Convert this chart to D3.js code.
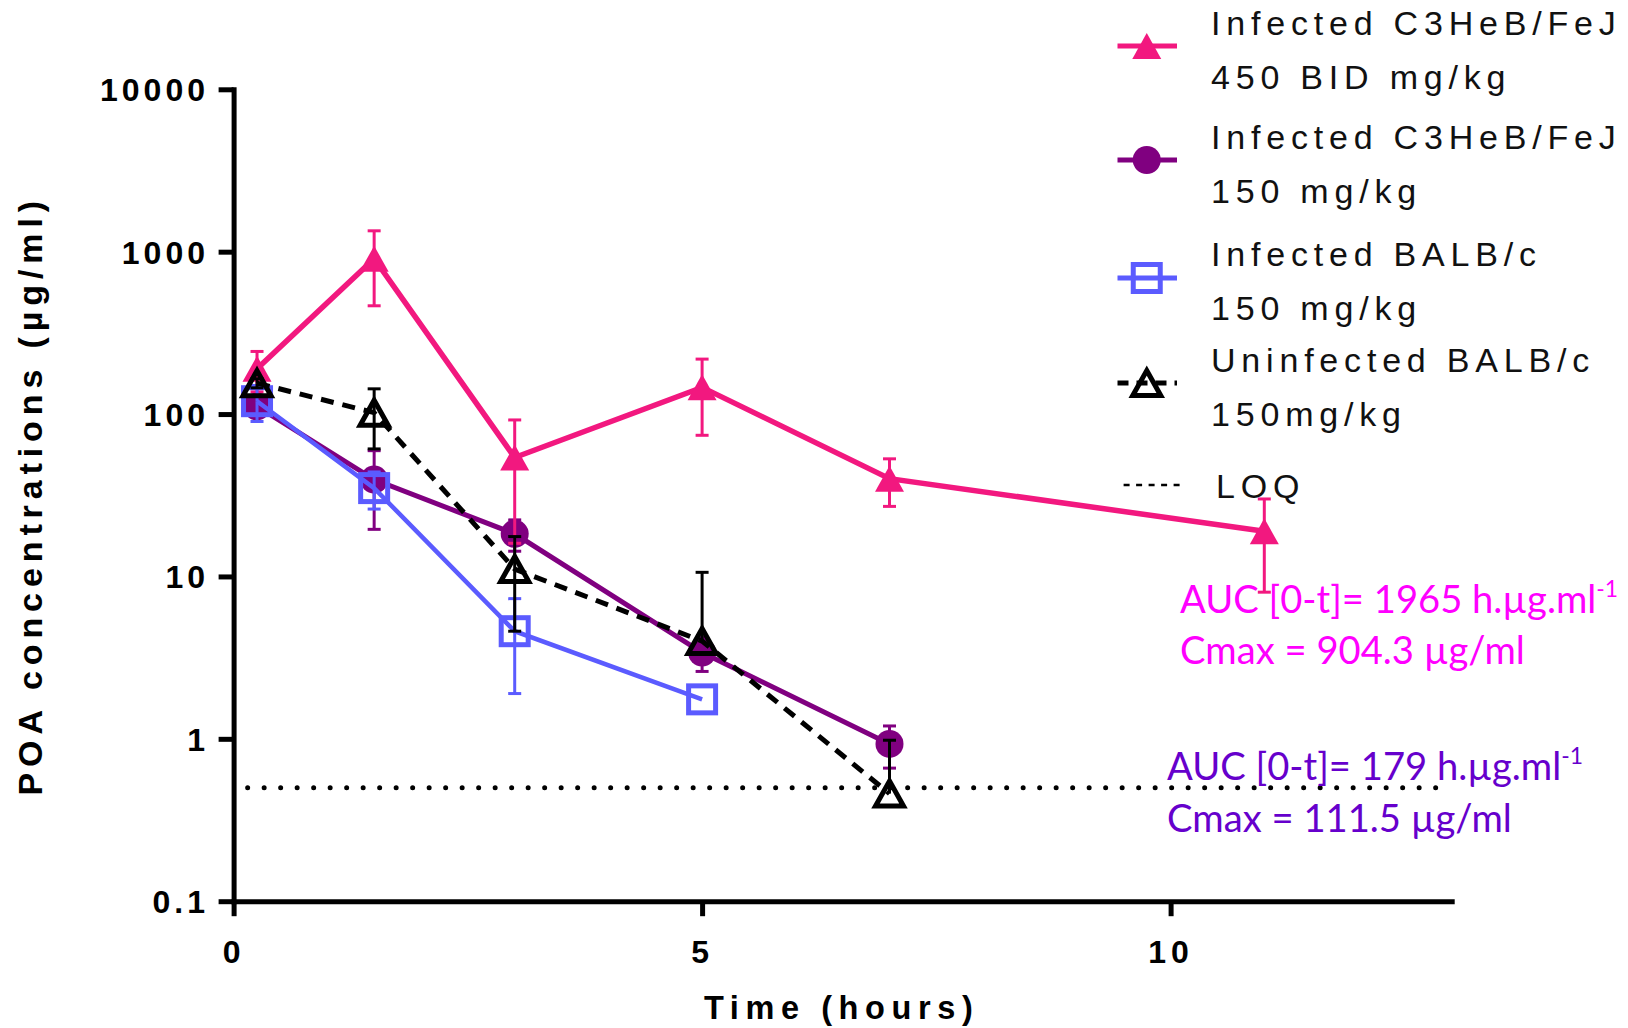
<!DOCTYPE html>
<html><head><meta charset="utf-8">
<script src="https://cdn.jsdelivr.net/npm/d3@7"></script>
<style>html,body{margin:0;padding:0;background:#fff;} svg{display:block;}</style>
</head><body>
<svg id="chart" width="1628" height="1028"></svg>
<script>
// ---- data ----
const times450 = [0.25, 1.5, 3, 5, 7, 11];
const mean450  = [190, 904.3, 54, 146, 40, 19];
const sd450    = [53, 440, 38, 72, 13, 11];

const times150 = [0.25, 1.5, 3, 5, 7];
const mean150  = [111.5, 39.5, 18.3, 3.4, 0.93];
const sd150    = [15, 20, 4, 0.8, 0.27];

const timesBalb = [0.25, 1.5, 3, 5];
const meanBalb  = [120, 35, 4.6, 1.75];
const sdBalb    = [30, 9, 2.7, 0];

const timesUn = [0.25, 1.5, 3, 5, 7];
const meanUn  = [155, 102, 11.1, 4.0, 0.46];
const sdUn    = [10, 41, 6.5, 6.6, 0.52];

const loqValue = 0.5;
const loqRange = [0.15, 12.9];

const yTicks = [0.1, 1, 10, 100, 1000, 10000];
const yTickLabels = ["0.1", "1", "10", "100", "1000", "10000"];
const xTicks = [0, 5, 10];
const xTickLabels = ["0", "5", "10"];

const legendLines = [
  ["Infected C3HeB/FeJ", "450 BID mg/kg"],
  ["Infected C3HeB/FeJ", "150 mg/kg"],
  ["Infected BALB/c", "150 mg/kg"],
  ["Uninfected BALB/c", "150mg/kg"]
];
const loqLabel = "LOQ";
const aucTexts = ["AUC [0-t]= 1965 h.µg.ml", "AUC [0-t]= 179 h.µg.ml"];
const cmaxTexts = ["Cmax = 904.3 µg/ml", "Cmax = 111.5 µg/ml"];
const supText = "-1";
const xTitle = "Time (hours)";
const yTitle = "POA concentrations (µg/ml)";

// ---- layout ----
const svg = d3.select("#chart");
const x = d3.scaleLinear().domain([0, 13]).range([233.6, 1451.7]);
const y = d3.scaleLog().domain([0.1, 10000]).range([901.2, 89.3]);

const C = {pink: "#F2187F", purple: "#800080", blue: "#5B5BFF", black: "#000"};

// axes
const yAxis = svg.append("g").attr("transform", `translate(${x(0)},0)`)
  .call(d3.axisLeft(y).tickValues(yTicks).tickFormat((d, i) => yTickLabels[i]).tickSize(15).tickSizeOuter(0).tickPadding(0));
const xAxis = svg.append("g").attr("transform", `translate(0,${y(0.1)})`)
  .call(d3.axisBottom(x).tickValues(xTicks).tickFormat((d, i) => xTickLabels[i]).tickSize(15).tickSizeOuter(0));
[yAxis, xAxis].forEach(g => {
  g.select(".domain").attr("stroke", "#000").attr("stroke-width", 5).attr("stroke-linecap", "square");
  g.selectAll(".tick line").attr("stroke", "#000").attr("stroke-width", 5);
  g.selectAll("text").attr("fill", "#000").attr("font-family", "'Liberation Sans', Arial, sans-serif")
    .attr("font-weight", "bold");
});
yAxis.selectAll(".tick text").attr("font-size", 32).style("letter-spacing", "4px").attr("x", -24.6).attr("dy", "0.36em");
xAxis.selectAll(".tick text").attr("font-size", 32).style("letter-spacing", "5px").attr("y", 62).attr("dy", 0).attr("x", 0);

// axis titles
svg.append("text").attr("transform", `translate(${x(0) + 608},1018.5)`).attr("text-anchor", "middle")
  .attr("font-family", "'Liberation Sans', Arial, sans-serif").attr("font-weight", "bold")
  .attr("font-size", 32.5).style("letter-spacing", "6.6px").text(xTitle);
svg.append("text").attr("transform", `translate(42,${(y(0.1) + y(10000)) / 2 + 0})rotate(-90)`).attr("text-anchor", "middle")
  .attr("font-family", "'Liberation Sans', Arial, sans-serif").attr("font-weight", "bold")
  .attr("font-size", 34).style("letter-spacing", "5.9px").text(yTitle);

// LOQ
svg.append("line").attr("x1", x(loqRange[0])).attr("x2", x(loqRange[1]))
  .attr("y1", y(loqValue)).attr("y2", y(loqValue))
  .attr("stroke", "#000").attr("stroke-width", 5).attr("stroke-linecap", "round")
  .attr("stroke-dasharray", "0 16.5");

// markers
const triPath = (w, h) => `M0,${-h / 2}L${w / 2},${h / 2}L${-w / 2},${h / 2}Z`;
const marker = {
  triFill: (g, c) => g.append("path").attr("d", triPath(29, 26)).attr("fill", c),
  circle: (g, c) => g.append("circle").attr("r", 14).attr("fill", c),
  square: (g, c) => g.append("rect").attr("x", -13.5).attr("y", -13.5).attr("width", 27).attr("height", 27)
    .attr("fill", "none").attr("stroke", c).attr("stroke-width", 5),
  triOpen: (g, c) => g.append("path").attr("d", triPath(28, 25)).attr("fill", "none").attr("stroke", c)
    .attr("stroke-width", 5).attr("stroke-linejoin", "miter")
};

const series = [
  {t: times150, m: mean150, sd: sd150, color: C.purple, mk: "circle", w: 5, dash: null},
  {t: times450, m: mean450, sd: sd450, color: C.pink, mk: "triFill", w: 5.5, dash: null},
  {t: timesBalb, m: meanBalb, sd: sdBalb, color: C.blue, mk: "square", w: 4.5, dash: null},
  {t: timesUn, m: meanUn, sd: sdUn, color: C.black, mk: "triOpen", w: 5, dash: "13 9"}
];

series.forEach(s => {
  const g = svg.append("g");
  const pts = s.t.map((t, i) => ({t, m: s.m[i], sd: s.sd[i]}));
  // error bars
  pts.forEach(p => {
    if (!p.sd) return;
    const up = p.m + p.sd, lo = p.m - p.sd;
    const eg = g.append("g").attr("stroke", s.color).attr("stroke-width", 3);
    const cx = x(p.t);
    eg.append("line").attr("x1", cx).attr("x2", cx).attr("y1", y(p.m)).attr("y2", y(up));
    eg.append("line").attr("x1", cx - 6.5).attr("x2", cx + 6.5).attr("y1", y(up)).attr("y2", y(up));
    if (lo > 0.1) {
      eg.append("line").attr("x1", cx).attr("x2", cx).attr("y1", y(p.m)).attr("y2", y(lo));
      eg.append("line").attr("x1", cx - 6.5).attr("x2", cx + 6.5).attr("y1", y(lo)).attr("y2", y(lo));
    }
  });
  // line
  g.append("path").datum(pts)
    .attr("d", d3.line().x(p => x(p.t)).y(p => y(p.m)))
    .attr("fill", "none").attr("stroke", s.color).attr("stroke-width", s.w)
    .attr("stroke-dasharray", s.dash);
  // markers
  pts.forEach(p => {
    const mg = g.append("g").attr("transform", `translate(${x(p.t)},${y(p.m)})`);
    marker[s.mk](mg, s.color);
  });
});

// legend
const legX = 1211, symX1 = 1117.5, symX2 = 1177;
const legBase = [35.4, 149, 266, 372];
const legSymY = [46, 160, 278, 383];
const legendSeries = [series[1], series[0], series[2], series[3]];
legendLines.forEach((lines, i) => {
  const s = legendSeries[i];
  svg.append("line").attr("x1", symX1).attr("x2", symX2).attr("y1", legSymY[i]).attr("y2", legSymY[i])
    .attr("stroke", s.color).attr("stroke-width", 5).attr("stroke-dasharray", s.dash ? "11 8" : null);
  const mg = svg.append("g").attr("transform", `translate(${(symX1 + symX2) / 2 - 0.5},${legSymY[i]})`);
  marker[s.mk](mg, s.color);
  lines.forEach((txt, j) => {
    svg.append("text").attr("x", legX).attr("y", legBase[i] + j * 53.5)
      .attr("font-family", "'Liberation Sans', Arial, sans-serif").attr("font-size", 34)
      .style("letter-spacing", "5.8px").attr("fill", "#111").text(txt);
  });
});
svg.append("line").attr("x1", 1123.6).attr("x2", 1186).attr("y1", 485).attr("y2", 485)
  .attr("stroke", "#000").attr("stroke-width", 2.5).attr("stroke-dasharray", "6 6.5");
svg.append("text").attr("x", 1216).attr("y", 497.6)
  .attr("font-family", "'Liberation Sans', Arial, sans-serif").attr("font-size", 34)
  .style("letter-spacing", "5.8px").attr("fill", "#111").text(loqLabel);

// annotations
const annFont = "Lato, 'Open Sans', sans-serif";
const probe = svg.append("text").attr("font-family", annFont).attr("font-size", 40).text(cmaxTexts[0]);
const fs = 40 * 345 / probe.node().getComputedTextLength();
probe.remove();
const annPos = [{x: 1180, y1: 613, y2: 663.5, color: "#FF00FF"}, {x: 1167, y1: 780, y2: 832, color: "#6600CC"}];
annPos.forEach((a, i) => {
  const t1 = svg.append("text").attr("x", a.x).attr("y", a.y1).attr("font-family", annFont)
    .attr("font-size", fs).attr("fill", a.color);
  t1.append("tspan").text(aucTexts[i]);
  t1.append("tspan").attr("font-size", fs * 0.6).attr("dy", -fs * 0.42).text(supText);
  svg.append("text").attr("x", a.x).attr("y", a.y2).attr("font-family", annFont)
    .attr("font-size", fs).attr("fill", a.color).text(cmaxTexts[i]);
});
</script>
</body></html>
